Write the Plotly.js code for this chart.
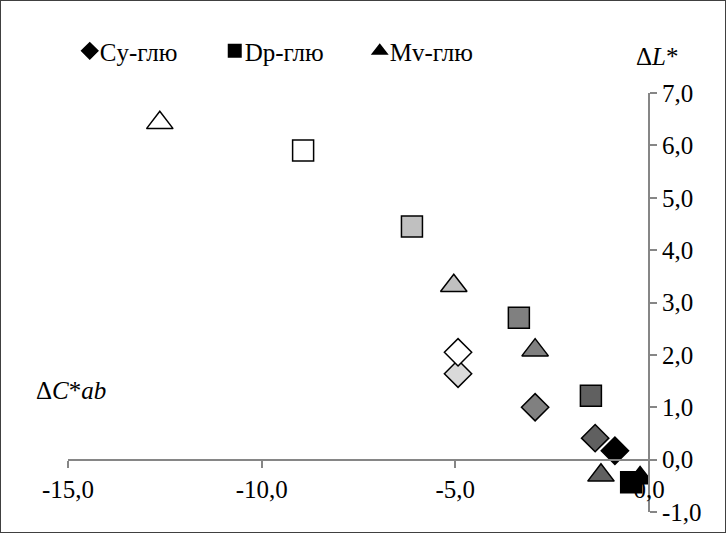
<!DOCTYPE html>
<html>
<head>
<meta charset="utf-8">
<script src="https://cdn.plot.ly/plotly-3.0.1.min.js"></script>
<style>
html,body{margin:0;padding:0;background:#fff;}
#chart{width:724px;height:531px;border:1px solid #404040;}
</style>
</head>
<body>
<div id="chart"></div>
<script>
// Series: Cy-глю (diamonds), Dp-глю (squares), Mv-глю (triangles)
const seriesNames = ["Cy-глю", "Dp-глю", "Mv-глю"];
// ΔC*ab (x) and ΔL* (y), black point first (used by legend)
const cyX = [-0.88, -1.39, -2.94, -4.93, -4.93];
const cyY = [0.17, 0.41, 1.00, 1.64, 2.05];
const dpX = [-0.46, -1.50, -3.36, -6.12, -8.93];
const dpY = [-0.43, 1.22, 2.71, 4.45, 5.90];
const mvX = [-0.23, -1.24, -2.94, -5.04, -12.63];
const mvY = [-0.35, -0.30, 2.09, 3.32, 6.43];
const cyFill = ["#000000", "#606060", "#808080", "#d9d9d9", "#ffffff"];
const dpFill = ["#000000", "#606060", "#808080", "#c0c0c0", "#ffffff"];
const mvFill = ["#000000", "#606060", "#808080", "#c0c0c0", "#ffffff"];
const xTicks = [-15, -10, -5, 0];
const xTickText = ["-15,0", "-10,0", "-5,0", "0,0"];
const yTicks = [-1, 0, 1, 2, 3, 4, 5, 6, 7];
const yTickText = ["-1,0", "0,0", "1,0", "2,0", "3,0", "4,0", "5,0", "6,0", "7,0"];

const font = "Liberation Serif";
const fs = 25;
const axisCol = "#868686";

function tr(name, x, y, fill, symbol, size) {
  return {
    type: "scatter", mode: "markers", name: name, x: x, y: y,
    marker: {symbol: symbol, size: size, color: fill, line: {color: "#000", width: 1.5}},
    hoverinfo: "skip"
  };
}
const data = [
  tr(seriesNames[0], cyX, cyY, cyFill, "diamond", 21),
  tr(seriesNames[1], dpX, dpY, dpFill, "square", 21),
  tr(seriesNames[2], mvX, mvY, mvFill, "triangle-up", 23)
];

const layout = {
  width: 724, height: 531,
  margin: {l: 67, r: 76, t: 92, b: 20},
  paper_bgcolor: "#fff", plot_bgcolor: "#fff",
  font: {family: font, size: fs, color: "#000"},
  showlegend: true,
  legend: {orientation: "h", x: 0.003, xanchor: "left", y: 1.1, yanchor: "middle",
    font: {family: font, size: fs}, itemsizing: "constant", itemwidth: 30,
    entrywidth: 100, entrywidthmode: "pixels",
    traceorder: "normal", bgcolor: "rgba(0,0,0,0)"},
  xaxis: {range: [-15, 0], tickvals: xTicks, ticktext: xTickText,
    showgrid: false, zeroline: false, showline: true, linecolor: axisCol, linewidth: 2,
    ticks: "outside", ticklen: 7, tickwidth: 2, tickcolor: axisCol,
    anchor: "free", position: 0.125, tickfont: {family: font, size: fs}},
  yaxis: {range: [-1, 7], tickvals: yTicks, ticktext: yTickText,
    showgrid: false, zeroline: false, showline: true, linecolor: axisCol, linewidth: 2,
    ticks: "outside", ticklen: 7, tickwidth: 2, tickcolor: axisCol,
    side: "right", anchor: "free", position: 1, tickfont: {family: font, size: fs}},
  yaxis2: {range: [-1, 7], tickvals: yTicks, overlaying: "y", side: "left",
    anchor: "free", position: 1, showgrid: false, zeroline: false, showline: false,
    ticks: "outside", ticklen: 7, tickwidth: 2, tickcolor: axisCol, showticklabels: false},
  annotations: [
    {xref: "paper", yref: "paper", x: 1.014, y: 1.087, text: "Δ<i>L</i>*", showarrow: false,
     font: {family: font, size: fs}, xanchor: "center", yanchor: "middle"},
    {xref: "paper", yref: "paper", x: 0.005, y: 0.29, text: "Δ<i>C</i>*<i>ab</i>", showarrow: false,
     font: {family: font, size: fs}, xanchor: "center", yanchor: "middle"}
  ]
};
Plotly.newPlot("chart", data, layout, {staticPlot: true}).then(function (gd) {
  // pull legend text closer to its symbol, as in the reference
  gd.querySelectorAll(".legendtext").forEach(function (t) {
    t.setAttribute("x", 30);
  });
});
</script>
</body>
</html>
